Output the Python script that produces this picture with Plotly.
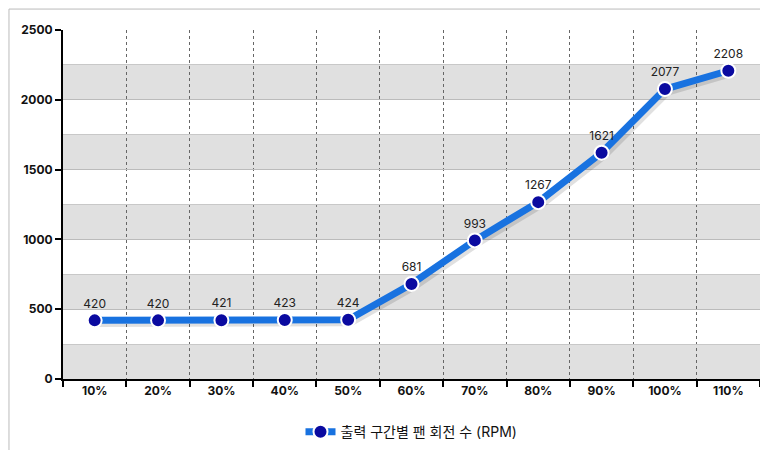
import plotly.graph_objects as go

categories = ["10%","20%","30%","40%","50%","60%","70%","80%","90%","100%","110%"]
rpm = [420,420,421,423,424,681,993,1267,1621,2077,2208]
series_name = "출력 구간별 팬 회전 수 (RPM)"
band_starts = [0,500,1000,1500,2000]

xs = list(range(len(categories)))
font = "Inter, Noto Sans CJK KR, sans-serif"
fig = go.Figure()
# shadow
fig.add_trace(go.Scatter(x=[x+0.04 for x in xs], y=[v-18 for v in rpm], mode="lines",
    line=dict(color="rgba(0,0,0,0.12)", width=8), hoverinfo="skip", showlegend=False))
fig.add_trace(go.Scatter(x=xs, y=rpm, mode="lines+markers+text", name=series_name,
    line=dict(color="#1872e0", width=7),
    marker=dict(size=14, color="#0a0aa0", line=dict(color="white", width=2)),
    text=[str(v) for v in rpm], textposition="top center",
    textfont=dict(family=font, size=12, color="#222")))
for b in band_starts:
    fig.add_shape(type="rect", xref="paper", x0=0, x1=1, y0=b, y1=b+250,
                  fillcolor="#e0e0e0", line_width=0, layer="below")
fig.update_layout(
    width=768, height=450, paper_bgcolor="white", plot_bgcolor="white",
    margin=dict(l=55, r=16, t=22, b=79, autoexpand=False),
    font=dict(family=font, size=12, color="#111"),
    legend=dict(orientation="h", x=0.5, xanchor="center", y=-0.152, yanchor="middle",
                font=dict(size=14, family=font)),
    showlegend=True,
)
fig.update_xaxes(range=[-0.5, len(categories)-0.5], tickvals=xs, ticktext=["<b>%s</b>" % c for c in categories],
    ticks="", showgrid=False, showline=True, linecolor="black", linewidth=2, zeroline=False,
    tickfont=dict(size=12),
    minor=dict(tick0=-0.5, dtick=1, ticks="outside", ticklen=6, tickwidth=2, tickcolor="black",
               showgrid=True, gridcolor="#666", griddash="dot", gridwidth=1))
fig.update_yaxes(range=[0, 2500], dtick=500, ticks="outside", ticklen=6, tickwidth=2, tickcolor="black",
    showline=True, linecolor="black", linewidth=2, zeroline=False,
    tickprefix="<b>", ticksuffix="</b>",
    showgrid=True, gridcolor="#bbb", gridwidth=1,
    minor=dict(dtick=250, showgrid=True, gridcolor="#c8c8c8", gridwidth=1))
fig.add_shape(type="rect", xref="paper", yref="paper", x0=-0.0775, x1=1.0215, y0=-0.2235, y1=1.06,
              line=dict(color="#bbb", width=1))
fig.write_html("out.html")
